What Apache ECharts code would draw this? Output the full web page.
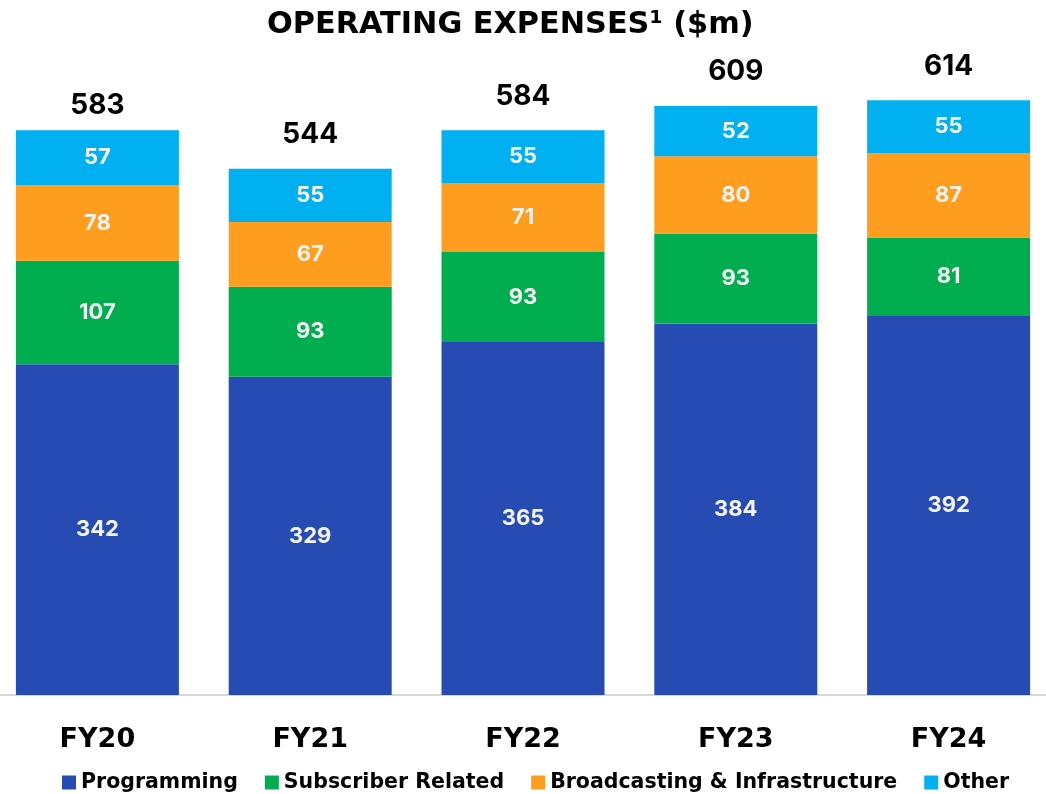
<!DOCTYPE html>
<html>
<head>
<meta charset="utf-8">
<script src="https://cdn.jsdelivr.net/npm/echarts@6/dist/echarts.min.js"></script>
<style>
  html, body { margin: 0; padding: 0; background: #ffffff; }
  #chart { width: 1046px; height: 794px; }
</style>
</head>
<body>
<div id="chart"></div>
<script>
// Fiscal years and operating expense components ($m)
const years = ['FY20', 'FY21', 'FY22', 'FY23', 'FY24'];
const programming = [342, 329, 365, 384, 392];
const subscriberRelated = [107, 93, 93, 93, 81];
const broadcasting = [78, 67, 71, 80, 87];
const other = [57, 55, 55, 52, 55];
const totals = [583, 544, 584, 609, 614];

const TEXT_FONT = '"DejaVu Sans", sans-serif';
const NUM_FONT = 'Inter, "DejaVu Sans", sans-serif';
const colors = ['#264BB3', '#00AE4F', '#FF9E1E', '#00B0F0'];

const innerLabel = {
  show: true,
  position: 'inside',
  color: '#f4f4f4',
  fontFamily: NUM_FONT,
  fontWeight: 'bold',
  fontSize: 22
};

function seg(name, data, color) {
  return {
    name: name,
    type: 'bar',
    stack: 'opex',
    data: data,
    barWidth: 163,
    itemStyle: { color: color },
    label: innerLabel,
    emphasis: { disabled: true }
  };
}

// zero-height bars carrying the stack totals; first label sits a little closer
const totalItems = totals.map((t, i) => ({
  value: 0,
  label: { distance: i === 0 ? 11 : 20 }
}));

const chart = echarts.init(document.getElementById('chart'), null, { renderer: 'canvas' });
chart.setOption({
  animation: false,
  backgroundColor: '#ffffff',
  title: {
    text: 'OPERATING EXPENSES¹ ($m)',
    left: 262,
    top: 5,
    textStyle: { fontFamily: TEXT_FONT, fontWeight: 'bold', fontSize: 30.3, color: '#000000' }
  },
  legend: {
    top: 772,
    left: 62,
    padding: 0,
    icon: 'rect',
    itemWidth: 14,
    itemHeight: 14,
    itemGap: 27,
    textStyle: { fontFamily: TEXT_FONT, fontWeight: 'bold', fontSize: 20.5, color: '#000000' },
    data: ['Programming', 'Subscriber Related', 'Broadcasting & Infrastructure', 'Other']
  },
  grid: { left: -9, right: -9, top: 18, bottom: 99, outerBoundsMode: 'none', containLabel: false },
  xAxis: {
    type: 'category',
    data: years,
    axisTick: { show: false },
    axisLine: { lineStyle: { color: '#d9d9d9', width: 2 } },
    axisLabel: {
      margin: 31,
      color: '#000000',
      fontFamily: TEXT_FONT,
      fontWeight: 'bold',
      fontSize: 27
    }
  },
  yAxis: {
    type: 'value',
    min: 0,
    max: 700,
    show: false,
    splitLine: { show: false }
  },
  series: [
    seg('Programming', programming, colors[0]),
    seg('Subscriber Related', subscriberRelated, colors[1]),
    seg('Broadcasting & Infrastructure', broadcasting, colors[2]),
    seg('Other', other, colors[3]),
    {
      name: 'Total',
      type: 'bar',
      stack: 'opex',
      data: totalItems,
      barWidth: 163,
      itemStyle: { color: 'transparent' },
      label: {
        show: true,
        position: 'top',
        formatter: p => totals[p.dataIndex],
        color: '#000000',
        fontFamily: NUM_FONT,
        fontWeight: 'bold',
        fontSize: 28
      },
      emphasis: { disabled: true },
      silent: true
    }
  ]
});
</script>
</body>
</html>
